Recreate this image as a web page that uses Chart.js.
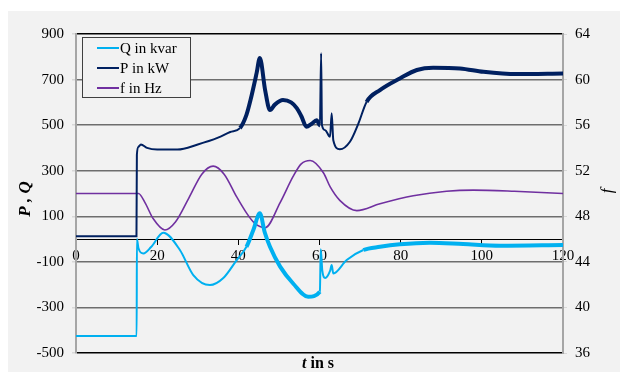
<!DOCTYPE html>
<html>
<head>
<meta charset="utf-8">
<script src="https://cdn.jsdelivr.net/npm/chart.js"></script>
<style>
  body { margin: 0; background: #fff; }
</style>
</head>
<body>
<canvas id="myChart" width="620" height="372"></canvas>
<script>
// time in s
const qTime = [0, 14.95, 15.0, 15.4, 16.6, 18.5, 21.5, 25.6, 28.9, 33, 36.3, 39.6, 42, 43.7, 45.3, 46.5, 47.8, 50.3, 53.5, 57.2, 60.1, 60.3, 60.7, 61.4, 62.6, 63.0, 63.4, 66.7, 70.8, 74.9, 79.8, 87.2, 95.4, 104.5, 120];
const qValues = [-425, -425, 0, -40, -63, -35, 28, -48, -158, -202, -171, -92, -34, 40, 113, 30, -34, -121, -195, -253, -231, -45, -140, -171, -140, -114, -151, -92, -48, -34, -23, -16, -22, -29, -26];

const pTime = [0, 14.9, 15.0, 15.4, 16.0, 17.5, 20, 25, 30, 35, 38, 40.4, 42, 43, 44.5, 45.3, 46.6, 47.8, 49, 51, 53, 54.4, 55.5, 56.8, 58, 59.3, 60.1, 60.4, 60.6, 61.4, 62.6, 63.0, 63.4, 65, 67.5, 69.6, 71.6, 74.9, 79.8, 84, 88, 94.6, 100.4, 108.6, 120];
const pValues = [12, 12, 370, 405, 415, 400, 393, 393, 415, 445, 470, 487, 545, 610, 728, 795, 654, 566, 590, 610, 600, 575, 540, 493, 505, 522, 500, 815, 500, 478, 449, 552, 434, 394, 427, 508, 602, 654, 705, 742, 752, 749, 734, 724, 727];

const fTime = [0, 15.4, 17, 19, 21.9, 24.5, 27.8, 31, 33.8, 36.5, 39.6, 42, 44, 46.6, 50.3, 53.5, 55.5, 57.7, 61, 62.6, 65, 69.2, 74.9, 83.1, 91.3, 97.9, 108, 120];
const fValues = [50, 50, 49.2, 47.8, 46.8, 47.5, 49.6, 51.7, 52.4, 51.7, 49.7, 48.3, 47.4, 47.0, 49.2, 51.5, 52.6, 52.9, 51.8, 50.6, 49.4, 48.5, 49.1, 49.8, 50.2, 50.3, 50.2, 50.0];

const leftTicks = [-500, -300, -100, 100, 300, 500, 700, 900];
const rightTicks = [36, 40, 44, 48, 52, 56, 60, 64];

function pts(t, v) {
  return t.map((x, i) => ({ x: x, y: v[i] }));
}

// noisy parts of the record look like a thicker band
function bandWidth(thin, thick) {
  return ctx => {
    const t = ctx.p0.parsed.x;
    return (t >= 40 && t <= 60) || t >= 70 ? thick : thin;
  };
}

const serif = '"Liberation Serif", "Times New Roman", serif';

const extras = {
  id: 'extras',
  beforeDraw(chart) {
    const c = chart.ctx;
    c.save();
    c.fillStyle = '#f2f2f2';
    c.fillRect(8, 11, 612, 361);
    c.restore();
  },
  afterDraw(chart) {
    const c = chart.ctx;
    c.save();
    // legend
    c.fillStyle = '#f2f2f2';
    c.fillRect(82, 37, 108, 60);
    c.strokeStyle = '#404040';
    c.lineWidth = 1;
    c.strokeRect(82.5, 37.5, 108, 60);
    c.font = '15px ' + serif;
    c.textBaseline = 'middle';
    chart.data.datasets.forEach((ds, i) => {
      const y = 48 + i * 20;
      c.strokeStyle = ds.borderColor;
      c.lineWidth = 2;
      c.beginPath();
      c.moveTo(97, y);
      c.lineTo(119, y);
      c.stroke();
      c.fillStyle = '#000';
      c.fillText(ds.label, 120, y + 1);
    });

    // axis titles
    c.fillStyle = '#000';
    c.textAlign = 'center';
    c.save();
    c.translate(26, 199);
    c.rotate(-Math.PI / 2);
    c.font = 'italic bold 17px ' + serif;
    c.fillText('P , Q', 0, 0);
    c.restore();

    c.save();
    c.translate(608, 191);
    c.rotate(-Math.PI / 2);
    c.font = 'italic 17px ' + serif;
    c.fillText('f', 0, 0);
    c.restore();

    c.textAlign = 'left';
    c.font = 'italic bold 16px ' + serif;
    c.fillText('t', 302, 364);
    const w = c.measureText('t').width;
    c.font = 'bold 16px ' + serif;
    c.fillText(' in s', 302 + w, 364);
    c.restore();
  }
};

const data = {
  datasets: [{
    label: 'Q in kvar',
    data: pts(qTime, qValues),
    borderColor: '#00b0f0',
    borderWidth: 2,
    segment: { borderWidth: bandWidth(2, 4) },
    yAxisID: 'y'
  }, {
    label: 'P in kW',
    data: pts(pTime, pValues),
    borderColor: '#002060',
    borderWidth: 2,
    segment: { borderWidth: bandWidth(2, 4) },
    yAxisID: 'y'
  }, {
    label: 'f in Hz',
    data: pts(fTime, fValues),
    borderColor: '#7030a0',
    borderWidth: 1.6,
    yAxisID: 'y1'
  }]
};

const config = {
  type: 'line',
  data: data,
  plugins: [extras],
  options: {
    responsive: false,
    animation: false,
    parsing: true,
    elements: {
      point: { radius: 0 },
      line: { cubicInterpolationMode: 'monotone', fill: false }
    },
    layout: { padding: { left: 0, right: 0, top: 34, bottom: 19 } },
    plugins: {
      legend: { display: false },
      tooltip: { enabled: false }
    },
    scales: {
      x: {
        type: 'linear',
        min: 0,
        max: 120,
        position: { y: 0 },
        ticks: {
          stepSize: 20,
          color: '#000',
          padding: 3,
          font: { family: serif, size: 15 }
        },
        grid: { drawOnChartArea: false, tickLength: 5, color: '#000' },
        border: { color: '#000', width: 1 }
      },
      y: {
        position: 'left',
        min: -500,
        max: 900,
        afterBuildTicks: s => { s.ticks = leftTicks.map(v => ({ value: v })); },
        afterFit: s => { s.width = 76; },
        ticks: {
          color: '#000',
          padding: 8,
          font: { family: serif, size: 15 }
        },
        grid: {
          color: ctx => (ctx.tick && (ctx.tick.value === 900 || ctx.tick.value === -500)) ? '#000' : '#6e6e6e',
          lineWidth: 1.5,
          tickLength: 4,
          tickColor: '#d8d8d8'
        },
        border: { color: '#a6a6a6', width: 2 }
      },
      y1: {
        position: 'right',
        min: 36,
        max: 64,
        afterBuildTicks: s => { s.ticks = rightTicks.map(v => ({ value: v })); },
        afterFit: s => { s.width = 57; },
        ticks: {
          color: '#000',
          padding: 8,
          font: { family: serif, size: 15 }
        },
        grid: { drawOnChartArea: false, tickLength: 4, tickColor: '#d8d8d8' },
        border: { color: '#a6a6a6', width: 2 }
      }
    }
  }
};

const myChart = new Chart(
  document.getElementById('myChart'),
  config
);
</script>
</body>
</html>
